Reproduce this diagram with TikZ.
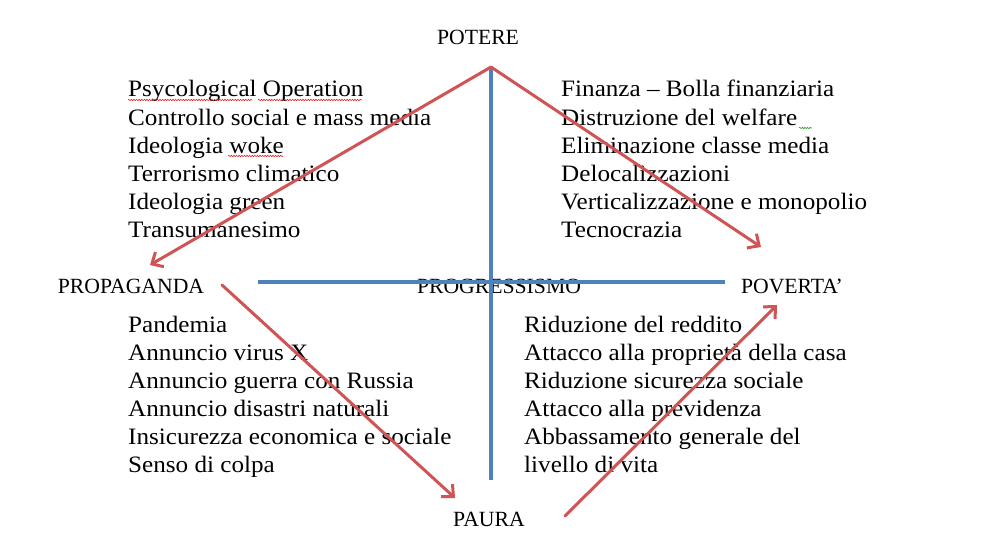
\documentclass[tikz,border=0pt]{standalone}
\usepackage{fontspec}
\setmainfont{Liberation Serif}
\newfontfamily\bodyfont{Liberation Serif}[FakeStretch=1.07]
\usetikzlibrary{arrows.meta,decorations.pathmorphing}
\definecolor{axisblue}{HTML}{4F81BD}
\definecolor{arrowred}{HTML}{D05456}
\definecolor{spellred}{HTML}{E02020}
\definecolor{spellgreen}{HTML}{20A020}
\tikzset{
  label/.style={font=\fontsize{21.7}{26}\selectfont, inner sep=0pt, anchor=base},
  item/.style={font=\bodyfont\fontsize{23.5}{28}\selectfont, inner sep=0pt, anchor=base west},
  axis/.style={draw=axisblue, line width=3.5pt},
  redarrow/.style={draw=arrowred, line width=3pt, line cap=round, -{Straight Barb[length=9pt,width=17pt,line width=3pt]}},
  wavy/.style={line width=0.6pt, decorate, decoration={snake, amplitude=0.7pt, segment length=2.6pt}},
}
\begin{document}
\begin{tikzpicture}[x=1pt,y=-1pt]
\useasboundingbox (0,0) rectangle (981,559);
% labels
\node[label] (potere) at (478,45) {POTERE};
\node[label] (propaganda) at (131,293) {PROPAGANDA};
\node[label] (progressismo) at (499,293) {PROGRESSISMO};
\node[label] (poverta) at (792,293) {POVERTA’};
\node[label] (paura) at (489,526) {PAURA};
% axes
\coordinate (apex) at (491,67);
\coordinate (vbot) at (491,480);
\coordinate (hl) at (258,282);
\coordinate (hr) at (725,282);
\draw[axis] (apex) -- (vbot);
\draw[axis] (hl) -- (hr);
% lists
\foreach \t [count=\i] in {Psycological Operation, Controllo social e mass media, Ideologia woke, Terrorismo climatico, Ideologia green, Transumanesimo}
  \node[item] (tl\i) at (128,{69+28*\i}) {\t};
\foreach \t [count=\i] in {Finanza – Bolla finanziaria, Distruzione del welfare, Eliminazione classe media, Delocalizzazioni, Verticalizzazione e monopolio, Tecnocrazia}
  \node[item] (tr\i) at (561,{69+28*\i}) {\t};
\foreach \t [count=\i] in {Pandemia, Annuncio virus X, Annuncio guerra con Russia, Annuncio disastri naturali, Insicurezza economica e sociale, Senso di colpa}
  \node[item] (bl\i) at (128,{304+28*\i}) {\t};
\foreach \t [count=\i] in {Riduzione del reddito, Attacco alla proprietà della casa, Riduzione sicurezza sociale, Attacco alla previdenza, Abbassamento generale del, livello di vita}
  \node[item] (br\i) at (524,{304+28*\i}) {\t};
% spell-check marks
\draw[spellred, wavy] (128,100) -- (252,100);
\draw[spellred, wavy] (258,100) -- (362,100);
\draw[spellred, wavy] (228,156) -- (283,156);
\draw[spellgreen, wavy] (799,128) -- (812,128);
% arrows
\coordinate (a1) at (150,265);
\coordinate (a2) at (761,247);
\coordinate (s3) at (222,285);
\coordinate (a3) at (455,498);
\coordinate (s4) at (565,516);
\coordinate (a4) at (777,305);
\draw[redarrow] (apex) -- (a1);
\draw[redarrow] (apex) -- (a2);
\draw[redarrow] (s3) -- (a3);
\draw[redarrow] (s4) -- (a4);
\end{tikzpicture}
\end{document}
